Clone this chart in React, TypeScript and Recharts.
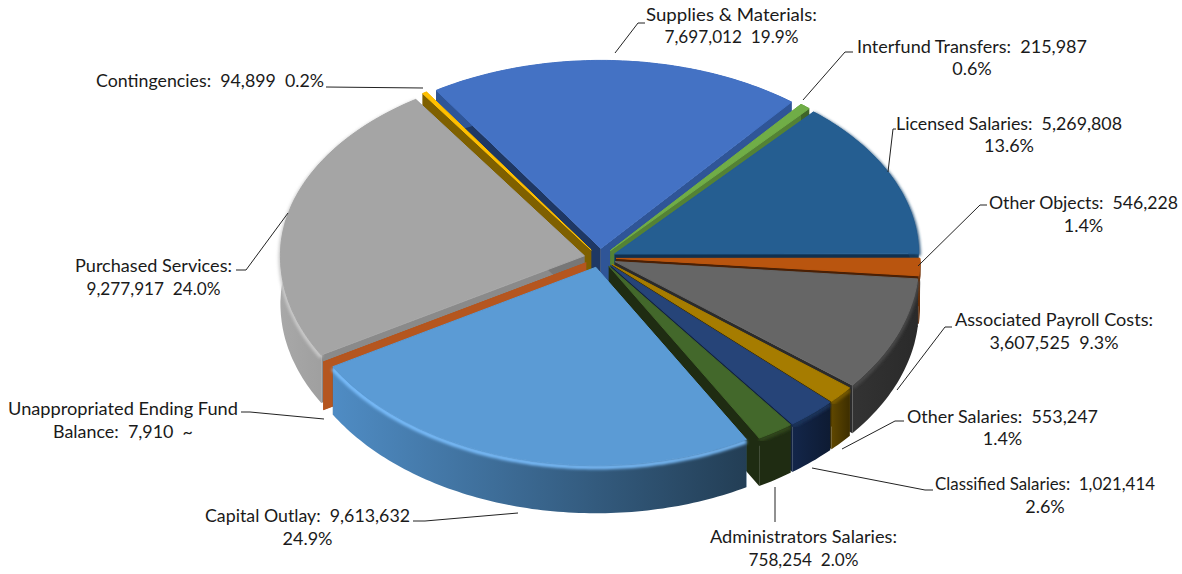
import { Pie, PieChart } from "recharts";

const categories = [
  "Supplies & Materials",
  "Interfund Transfers",
  "Licensed Salaries",
  "Other Objects",
  "Associated Payroll Costs",
  "Other Salaries",
  "Classified Salaries",
  "Administrators Salaries",
  "Capital Outlay",
  "Unappropriated Ending Fund Balance",
  "Purchased Services",
  "Contingencies",
];
const values = [7697012, 215987, 5269808, 546228, 3607525, 553247, 1021414, 758254, 9613632, 7910, 9277917, 94899];
const labelLines = [
  ["Supplies & Materials:", "7,697,012  19.9%"],
  ["Interfund Transfers:  215,987", "0.6%"],
  ["Licensed Salaries:  5,269,808", "13.6%"],
  ["Other Objects:  546,228", "1.4%"],
  ["Associated Payroll Costs:", "3,607,525  9.3%"],
  ["Other Salaries:  553,247", "1.4%"],
  ["Classified Salaries:  1,021,414", "2.6%"],
  ["Administrators Salaries:", "758,254  2.0%"],
  ["Capital Outlay:  9,613,632", "24.9%"],
  ["Unappropriated Ending Fund", "Balance:  7,910  ~"],
  ["Purchased Services:", "9,277,917  24.0%"],
  ["Contingencies:  94,899  0.2%"],
];

// drawn colours, same order as categories
const TOP = ["#4472c4", "#70ad47", "#255e91", "#b9550f", "#666666", "#a67c00", "#264478", "#43682b", "#5b9bd5", "#b5561f", "#a5a5a5", "#ffc000"];
const CUT_START = ["#1f3864", "#548235", "#255e91", "#b9550f", "#333333", "#5f4700", "#142744", "#1f3016", "#3f6f9c", "#b5561f", "#8a8a8a", "#7f6000"];
const CUT_END = ["#2f5597", "#548235", "#11304d", "#4a2005", "#2b2b2b", "#3f2f00", "#12223f", "#1f2c12", "#243f56", "#b5561f", "#777777", "#7f6000"];
const WALL_L = ["#2f5597", "#3f6428", "#163a5a", "#7a3a0c", "#333333", "#5f4700", "#13264a", "#1f2c12", "#4f8cc4", "#b5561f", "#a8a8a8", "#7f6000"];
const WALL_R = ["#2f5597", "#3f6428", "#163a5a", "#5a2a08", "#2a2a2a", "#3d2e00", "#0e1b33", "#1f2c12", "#233e55", "#b5561f", "#8c8c8c", "#7f6000"];
const RIM = ["none", "none", "#1b4a73", "#7a3a0c", "#4a4a4a", "#7a5c00", "#1c345c", "#31491f", "#7cc0ff", "none", "#cccccc", "none"];

// leader lines and label anchors: [x, baseline y of each line, width of the long lines]
const LABEL_X = [731.5, 972, 1009, 1083.5, 1054, 1002.5, 1045, 803.5, 307.5, 123, 153.5, 210];
const LABEL_Y = [[21, 43], [53, 75], [130, 152], [209, 232], [326, 349], [423, 445], [490, 513], [543, 566], [522, 545], [415, 438], [272, 295], [87]];
const LABEL_W = [[171, 134], [230], [226], [189], [198, 129], [191], [220], [187, 110], [205], [230, 140], [157, 134], [228]];
const LEADERS = [
  "615,53 638,23 645,23",
  "803,100 845,52 853,52",
  "888,172 893,129 896,129",
  "918,266 980,205 987,205",
  "897,390 945,327 952,327",
  "842,449 895,421 904,421",
  "812,468 925,490 933,490",
  "775,487 775,522",
  "518,513 425,521 413,521",
  "324,419 250,412 241,412",
  "288,213 246,270 236,270",
  "326,87 423,88",
];

const chartData = categories.map((name, i) => ({ name, value: values[i] }));
const reversedData = [...chartData].reverse();

const CX = 600;
const CY = 258;
const RX = 304;
const RY_BACK = 188;
const RY_FRONT = 198;
const DEPTH = 48;
const EXPLODE = 16;
const START = 122.8; // recharts degrees, Supplies starts here and runs clockwise
const LEFT_GROUP = [11, 10, 9, 8];

const rad = (d: number) => (d * Math.PI) / 180;

// clock angle (0 = top, clockwise) to screen point on the squashed rim
function rim(clock: number, ox: number, oy: number, cx: number, cy: number, rx: number) {
  const c = Math.cos(rad(clock));
  const ry = c > 0 ? RY_BACK : RY_FRONT;
  return [cx + ox + rx * Math.sin(rad(clock)), cy + oy - ry * c];
}

function geom(p: any) {
  const a0 = 90 - Math.max(p.startAngle, p.endAngle);
  const a1 = 90 - Math.min(p.startAngle, p.endAngle);
  const mid = (a0 + a1) / 2;
  const ox = EXPLODE * Math.sin(rad(mid));
  const oy = -EXPLODE * 0.6 * Math.cos(rad(mid));
  const arc: number[][] = [];
  const steps = Math.max(1, Math.ceil(a1 - a0));
  for (let s = 0; s <= steps; s++) {
    arc.push(rim(a0 + ((a1 - a0) * s) / steps, ox, oy, p.cx, p.cy, p.outerRadius));
  }
  return { arc, apex: [p.cx + ox, p.cy + oy] };
}

const toPath = (pts: number[][]) => "M" + pts.map((q) => `${q[0].toFixed(1)} ${q[1].toFixed(1)}`).join("L") + "Z";
const toLine = (pts: number[][], dy = 0) => "M" + pts.map((q) => `${q[0].toFixed(1)} ${(q[1] + dy).toFixed(1)}`).join("L");
const drop = (pts: number[][]) => pts.map((q) => [q[0], q[1] + DEPTH]);

function Walls(p: any, left: boolean) {
  const i = categories.indexOf(p.name);
  if (LEFT_GROUP.includes(i) !== left) return null;
  const { arc, apex } = geom(p);
  const first = arc[0];
  const last = arc[arc.length - 1];
  return (
    <g>
      <path d={toPath([apex, first, ...drop([first, apex])])} fill={CUT_START[i]} />
      <path d={toPath([apex, last, ...drop([last, apex])])} fill={CUT_END[i]} />
      <path d={toPath([...arc, ...drop(arc).reverse()])} fill={`url(#wall${i})`} />
      {RIM[i] !== "none" && (
        <path d={toLine(arc, 2)} fill="none" stroke={RIM[i]} strokeWidth={4} filter="url(#soft)" />
      )}
    </g>
  );
}

function TopFace(p: any) {
  const i = categories.indexOf(p.name);
  const { arc, apex } = geom(p);
  return (
    <path d={toPath([apex, ...arc])} fill={TOP[i]} stroke={TOP[i]} strokeWidth={1} strokeLinejoin="round" />
  );
}

function SliceLabel(p: any) {
  const i = categories.indexOf(p.name);
  return (
    <g>
      {labelLines[i].map((t, k) => (
        <text
          key={k}
          x={LABEL_X[i]}
          y={LABEL_Y[i][k]}
          textAnchor="middle"
          fontFamily="Lato"
          fontSize={18}
          fill="#1a1a1a"
          textLength={LABEL_W[i][k]}
          lengthAdjust={LABEL_W[i][k] ? "spacingAndGlyphs" : undefined}
          style={{ whiteSpace: "pre" }}
        >
          {t}
        </text>
      ))}
    </g>
  );
}

function SliceLeader(p: any) {
  const i = categories.indexOf(p.name);
  return <polyline points={LEADERS[i]} fill="none" stroke="#222222" strokeWidth={1} />;
}

export default function App() {
  return (
    <div style={{ position: "absolute", left: 0, top: 0, width: 1182, height: 574, background: "#fff" }}>
      <PieChart width={1182} height={574} margin={{ top: 0, right: 0, bottom: 0, left: 0 }}>
        <defs>
          <filter id="soft" x="-5%" y="-5%" width="110%" height="110%">
            <feGaussianBlur stdDeviation="1.4" />
          </filter>
          {categories.map((c, i) => (
            <linearGradient key={c} id={`wall${i}`} x1="0" x2="1" y1="0" y2="0">
              <stop offset="0" stopColor={WALL_L[i]} />
              <stop offset="1" stopColor={WALL_R[i]} />
            </linearGradient>
          ))}
        </defs>
        <Pie
          data={chartData}
          dataKey="value"
          nameKey="name"
          cx={CX}
          cy={CY}
          outerRadius={RX}
          startAngle={START}
          endAngle={START - 360}
          stroke="none"
          isAnimationActive={false}
          shape={(p: any) => Walls(p, false)}
        />
        <Pie
          data={reversedData}
          dataKey="value"
          nameKey="name"
          cx={CX}
          cy={CY}
          outerRadius={RX}
          startAngle={START - 360}
          endAngle={START}
          stroke="none"
          isAnimationActive={false}
          shape={(p: any) => Walls(p, true)}
        />
        <Pie
          data={chartData}
          dataKey="value"
          nameKey="name"
          cx={CX}
          cy={CY}
          outerRadius={RX}
          startAngle={START}
          endAngle={START - 360}
          stroke="none"
          isAnimationActive={false}
          shape={TopFace}
          label={SliceLabel}
          labelLine={SliceLeader}
        />
      </PieChart>
    </div>
  );
}
